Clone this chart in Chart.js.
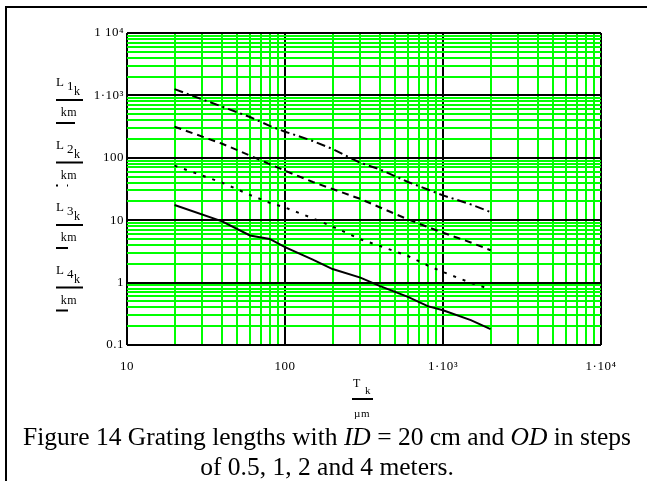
<!DOCTYPE html>
<html>
<head>
<meta charset="utf-8">
<script src="https://cdn.jsdelivr.net/npm/chart.js@4.4.0/dist/chart.umd.min.js"></script>
<style>
  html, body { margin: 0; padding: 0; background: #fff; }
  #wrap { position: relative; width: 647px; height: 481px; overflow: hidden; }
  #frame { position: absolute; left: 5px; top: 6px; right: -10px; bottom: -10px;
           border-left: 2px solid #000; border-top: 2px solid #000; }
  #chart { position: absolute; left: 0; top: 0; }
  #caption { position: absolute; left: 5px; width: 644px; top: 422px;
             font-family: 'Liberation Serif', 'Times New Roman', serif;
             font-size: 25.5px; line-height: 30px; text-align: center; white-space: nowrap; color: #000; }
</style>
</head>
<body>
<div id="wrap">
  <div id="frame"></div>
  <canvas id="chart" width="647" height="481"></canvas>
  <div id="caption">Figure 14 Grating lengths with <i>ID</i> = 20 cm and <i>OD</i> in steps<br>of 0.5, 1, 2 and 4 meters.</div>
</div>
<script>
// Grating thickness T (um) and lengths L (km) for OD = 0.5, 1, 2, 4 m
const tValues = [20, 40, 60, 80, 100, 150, 200, 300, 400, 600, 800, 1000, 1500, 2000];
const L1 = [1260, 660, 450, 325, 262, 186, 138, 83, 65, 41, 31, 25, 17.9, 13.5];
const L2 = [315, 168, 109, 79, 62, 41, 31.6, 21.9, 16, 10.3, 7.8, 6.3, 4.4, 3.3];
const L3 = [75, 40, 25.4, 19, 16, 10.7, 7.9, 4.95, 3.86, 2.67, 1.88, 1.48, 0.99, 0.78];
const L4 = [17.5, 9.6, 5.7, 5.0, 3.7, 2.34, 1.65, 1.2, 0.88, 0.59, 0.42, 0.36, 0.25, 0.18];
const seriesNames = ['1', '2', '3', '4'];

// axis ticks (decades get a label, the rest are minor grid lines)
const xTickLabels = { 10: '10', 100: '100', 1000: '1·10³', 10000: '1·10⁴' };
const yTickLabels = { 0.1: '0.1', 1: '1', 10: '10', 100: '100', 1000: '1·10³', 10000: '1 10⁴' };

const FONT = "'Liberation Serif', 'Times New Roman', serif";

function logGrid(min, max) {
  const vals = [];
  for (let e = Math.round(Math.log10(min)); e < Math.round(Math.log10(max)); e++) {
    for (let m = 1; m < 10; m++) vals.push(+(m * Math.pow(10, e)).toPrecision(6));
  }
  vals.push(max);
  return vals;
}

function isDecade(v) {
  const l = Math.log10(v);
  return Math.abs(l - Math.round(l)) < 1e-9;
}

const dashes = [[9, 4, 2, 4], [7, 5], [3, 7], []];
const sampleDashes = [[], [2, 9], [], []];
const allSeries = [L1, L2, L3, L4];

const datasets = allSeries.map((s, i) => ({
  label: 'L' + seriesNames[i],
  data: tValues.map((t, k) => ({ x: t, y: s[k] })),
  borderColor: '#000',
  borderWidth: 2,
  borderDash: dashes[i],
  pointRadius: 0,
  tension: 0,
  fill: false
}));

function gridColor(ctx) {
  return ctx.tick && isDecade(ctx.tick.value) ? '#000' : '#00ff00';
}

// slightly spaced lettering, like the Mathcad export
const spacing = {
  id: 'spacing',
  beforeDraw(chart) { chart.ctx.letterSpacing = '0.5px'; }
};

// Mathcad style axis labels: L n_k / km and T_k / um
const mathLabels = {
  id: 'mathLabels',
  afterDraw(chart) {
    const ctx = chart.ctx;
    ctx.save();
    ctx.fillStyle = '#000';
    ctx.strokeStyle = '#000';
    ctx.textBaseline = 'alphabetic';
    seriesNames.forEach((n, i) => {
      const y0 = 100 + i * 62.5;
      ctx.textAlign = 'left';
      ctx.font = '13px ' + FONT;
      ctx.fillText('L', 56, y0 - 14);
      ctx.fillText(n, 67, y0 - 10);
      ctx.font = '12px ' + FONT;
      ctx.fillText('k', 74, y0 - 5);
      ctx.lineWidth = 2;
      ctx.setLineDash([]);
      ctx.beginPath();
      ctx.moveTo(56, y0);
      ctx.lineTo(83, y0);
      ctx.stroke();
      ctx.textAlign = 'center';
      ctx.fillText('km', 69, y0 + 16);
      ctx.setLineDash(sampleDashes[i]);
      ctx.beginPath();
      ctx.moveTo(56, y0 + 23);
      ctx.lineTo(i === 0 ? 75 : 68, y0 + 23);
      ctx.stroke();
    });
    ctx.setLineDash([]);
    ctx.textAlign = 'left';
    ctx.font = '12px ' + FONT;
    ctx.fillText('T', 353, 387);
    ctx.font = '11px ' + FONT;
    ctx.fillText('k', 365, 394);
    ctx.lineWidth = 2;
    ctx.beginPath();
    ctx.moveTo(352, 399);
    ctx.lineTo(373, 399);
    ctx.stroke();
    ctx.textAlign = 'center';
    ctx.fillText('µm', 362, 417);
    ctx.restore();
  }
};

new Chart(document.getElementById('chart'), {
  type: 'line',
  data: { datasets },
  options: {
    responsive: false,
    animation: false,
    layout: { padding: { left: 0, top: 33, right: 46, bottom: 0 } },
    plugins: { legend: { display: false }, tooltip: { enabled: false } },
    scales: {
      x: {
        type: 'logarithmic',
        min: 10,
        max: 10000,
        afterBuildTicks: (scale) => { scale.ticks = logGrid(10, 10000).map(v => ({ value: v })); },
        afterFit: (scale) => { scale.height = 481 - 345; },
        grid: { color: gridColor, lineWidth: 2, drawTicks: false },
        border: { display: false },
        ticks: {
          autoSkip: false,
          maxRotation: 0,
          padding: 14,
          color: '#000',
          font: { family: FONT, size: 13 },
          callback: (v) => xTickLabels[v] || ''
        }
      },
      y: {
        type: 'logarithmic',
        min: 0.1,
        max: 10000,
        afterBuildTicks: (scale) => { scale.ticks = logGrid(0.1, 10000).map(v => ({ value: v })); },
        afterFit: (scale) => { scale.width = 127; },
        grid: { color: gridColor, lineWidth: 2, drawTicks: false },
        border: { display: false },
        ticks: {
          autoSkip: false,
          padding: 3,
          color: '#000',
          font: { family: FONT, size: 13 },
          callback: (v) => yTickLabels[v] || ''
        }
      }
    }
  },
  plugins: [spacing, mathLabels]
});
</script>
</body>
</html>
